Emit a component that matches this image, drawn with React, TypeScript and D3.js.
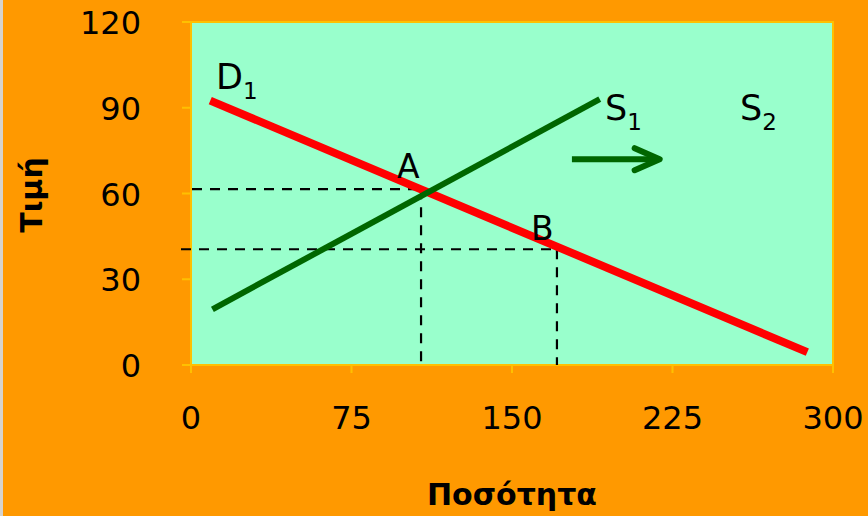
import React from "react";
import * as d3 from "d3";

// Supply & demand: demand D1, supply S1 shifting right toward S2
const xTicks = [0, 75, 150, 225, 300];
const yTicks = [0, 30, 60, 90, 120];
const demandD1 = [
  { q: 9, p: 92.5 },
  { q: 288, p: 4.5 },
];
const supplyS1 = [
  { q: 10, p: 19.5 },
  { q: 191, p: 93 },
];
const shiftArrow = [
  { q: 178, p: 72 },
  { q: 219, p: 72 },
];
const pointA = { q: 107.5, p: 61.5 };
const pointB = { q: 171, p: 40.5 };

const W = 868;
const H = 516;
const left = 191;
const right = 833;
const top = 22;
const bottom = 365;

const FONT = "'DejaVu Sans', sans-serif";

export default function App() {
  const x = d3.scaleLinear().domain([0, 300]).range([left, right]);
  const y = d3.scaleLinear().domain([0, 120]).range([bottom, top]);
  const line = d3
    .line<{ q: number; p: number }>()
    .x((d) => x(d.q))
    .y((d) => y(d.p));

  const ax = x(shiftArrow[1].q);
  const ay = y(shiftArrow[1].p);

  return (
    <div style={{ position: "fixed", left: 0, top: 0 }}>
      <svg width={W} height={H} style={{ display: "block" }}>
        <rect x={0} y={0} width={W} height={H} fill="#FF9900" />
        <rect x={0} y={0} width={3} height={H} fill="#D6D3CE" />

        {/* plot area */}
        <rect
          x={left}
          y={top}
          width={right - left}
          height={bottom - top}
          fill="#99FFCC"
          stroke="#FFC000"
          strokeWidth={2}
        />

        {/* y ticks and labels */}
        {yTicks.map((t) => (
          <g key={"y" + t}>
            <line x1={182} x2={left} y1={y(t)} y2={y(t)} stroke="#FFC000" strokeWidth={2} />
            <text
              x={141}
              y={y(t) + 1}
              textAnchor="end"
              dominantBaseline="central"
              fontFamily={FONT}
              fontSize={32}
              fill="#000"
            >
              {t}
            </text>
          </g>
        ))}

        {/* x ticks and labels */}
        {xTicks.map((t) => (
          <g key={"x" + t}>
            <line x1={x(t)} x2={x(t)} y1={bottom} y2={bottom + 8} stroke="#FFC000" strokeWidth={2} />
            <text
              x={x(t)}
              y={418}
              textAnchor="middle"
              dominantBaseline="central"
              fontFamily={FONT}
              fontSize={32}
              fill="#000"
            >
              {t}
            </text>
          </g>
        ))}

        {/* dashed guides to A and B */}
        <g stroke="#000" strokeWidth={2.2} strokeDasharray="10 8" fill="none">
          <line x1={x(0) + 1} x2={x(pointA.q)} y1={y(pointA.p)} y2={y(pointA.p)} />
          <line x1={x(pointA.q)} x2={x(pointA.q)} y1={y(pointA.p)} y2={bottom} />
          <line x1={181} x2={x(pointB.q)} y1={y(pointB.p)} y2={y(pointB.p)} />
          <line x1={x(pointB.q)} x2={x(pointB.q)} y1={y(pointB.p)} y2={bottom} />
        </g>

        {/* curves */}
        <path d={line(demandD1) ?? ""} stroke="#FF0000" strokeWidth={8} fill="none" />
        <path d={line(supplyS1) ?? ""} stroke="#006600" strokeWidth={6} fill="none" />

        {/* shift arrow */}
        <g stroke="#006600" strokeWidth={6} fill="none" strokeLinecap="round">
          <line x1={x(shiftArrow[0].q)} x2={ax - 2} y1={y(shiftArrow[0].p)} y2={ay} strokeLinecap="butt" />
          <polyline points={`${ax - 25},${ay - 11} ${ax},${ay} ${ax - 25},${ay + 11}`} strokeLinejoin="round" />
        </g>

        {/* labels */}
        <g fontFamily={FONT} fill="#000">
          <text x={216} y={89} fontSize={35}>
            D<tspan fontSize={23} dy={10}>1</tspan>
          </text>
          <text x={605} y={120} fontSize={35}>
            S<tspan fontSize={23} dy={10}>1</tspan>
          </text>
          <text x={740} y={120} fontSize={35}>
            S<tspan fontSize={23} dy={10}>2</tspan>
          </text>
          <text x={397} y={178} fontSize={33}>A</text>
          <text x={531} y={240} fontSize={33}>B</text>
        </g>

        {/* axis titles */}
        <text
          x={512}
          y={494}
          textAnchor="middle"
          dominantBaseline="central"
          fontFamily={FONT}
          fontWeight="bold"
          fontSize={30}
          fill="#000"
        >
          Ποσότητα
        </text>
        <text
          transform="translate(31,195) rotate(-90)"
          textAnchor="middle"
          dominantBaseline="central"
          fontFamily={FONT}
          fontWeight="bold"
          fontSize={30}
          fill="#000"
        >
          Τιμή
        </text>
      </svg>
    </div>
  );
}
